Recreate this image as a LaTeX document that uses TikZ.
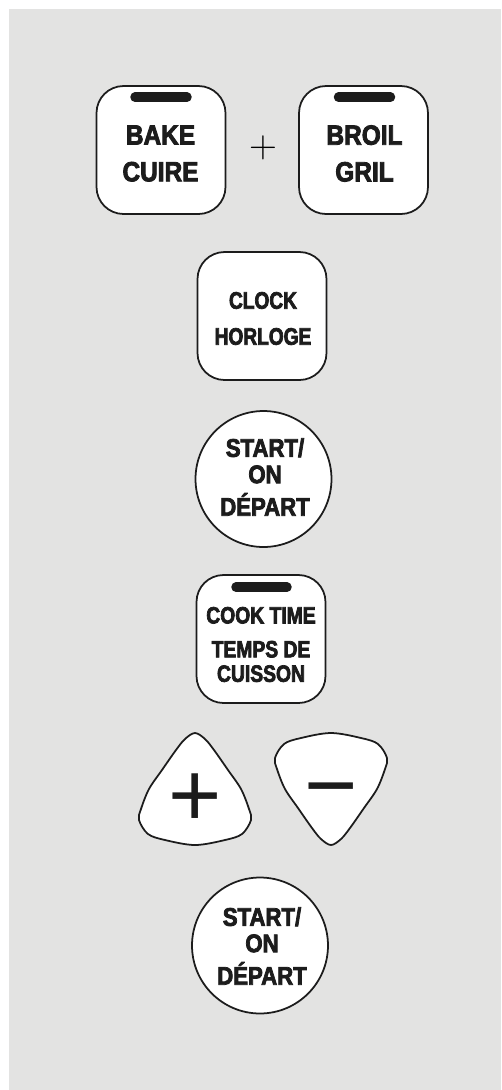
\documentclass[tikz,border=0pt]{standalone}
\usepackage{fontspec}
\newfontfamily\keyfont{Liberation Sans}[BoldFeatures={FakeBold=3}]
\newfontfamily\signfont{Liberation Sans}
\definecolor{panel}{RGB}{227,227,226}
\definecolor{ink}{RGB}{28,28,28}

\tikzset{
  pad/.pic={
    \draw[draw=ink, line width=1pt, fill=white]
      plot[smooth cycle, tension=0.55] coordinates {
        (0,-56) (10,-50) (19,-39) (33,-19) (46,0) (54,20) (56,31) (47,45) (30,51)
        (0,56) (-30,51) (-47,45) (-56,31) (-54,20) (-46,0) (-33,-19) (-19,-39) (-10,-50)};
  },
}

\begin{document}
\begin{tikzpicture}[
  x=0.02cm, y=-0.02cm,
  key/.style={draw=ink, line width=1pt, fill=white, rounded corners=0.54cm,
              minimum width=2.58cm, minimum height=2.56cm, inner sep=0pt},
  roundkey/.style={draw=ink, line width=1pt, fill=white, circle,
                   minimum size=2.72cm, inner sep=0pt},
  lbl/.style n args={3}{align=center, inner sep=0pt, text=ink,
                        font=\keyfont\bfseries\fontsize{#1}{#2}\selectfont\addfontfeature{FakeStretch=#3}},
  bar/.style={line width=0.19cm, line cap=round, draw=ink},
  sign/.style={anchor=base, inner sep=0pt, text=ink,
               font=\signfont\fontsize{52}{52}\selectfont},
]

\fill[white] (0,0) rectangle (501,1090);
\fill[panel] (9,9) rectangle (501,1090);

% keys
\node[key] (bake) at (161,150) {};
\node[key] (broil) at (363.5,150) {};
\node[key] (clock) at (262,316) {};
\node[roundkey] (start) at (263.5,479) {};
\node[key] (cooktime) at (261,639) {};
\node[roundkey] (startb) at (260,945.5) {};

\draw[bar] ([shift={(-26,12)}]bake.north) -- ([shift={(26,12)}]bake.north);
\draw[bar] ([shift={(-25,12)}]broil.north) -- ([shift={(27,12)}]broil.north);
\draw[bar] ([shift={(-25,13)}]cooktime.north) -- ([shift={(26,13)}]cooktime.north);

% labels
\node[lbl={15.8}{20.9}{0.88}] (bake-t) at (160.5,153.5) {BAKE\\CUIRE};
\node (and) at (263,148) {\fontsize{22}{22}\selectfont +};
\node[lbl={15.8}{20.9}{0.88}] (broil-t) at (364.5,153.5) {BROIL\\GRIL};
\node[lbl={13.6}{20.5}{0.8}] (clock-t) at (263,318.5) {CLOCK\\HORLOGE};
\node[lbl={14.5}{15}{0.87}] (start-t) at (265,477) {START/\\ON\\[3.5pt]DÉPART};
\node[lbl={13.4}{13.9}{0.82}] (cooktime-t) at (261,644.5) {COOK TIME\\[5.4pt]TEMPS DE\\CUISSON};
\node[lbl={14.5}{15}{0.87}] (startb-t) at (262,946) {START/\\ON\\[3.5pt]DÉPART};

% up / down pads
\pic at (195,789) {pad};
\pic[yscale=-1] at (331,789) {pad};
\node[sign] (up) at (195,826.5) {+};
\node[sign] (down) at (331,816.5) {−};

\end{tikzpicture}
\end{document}
